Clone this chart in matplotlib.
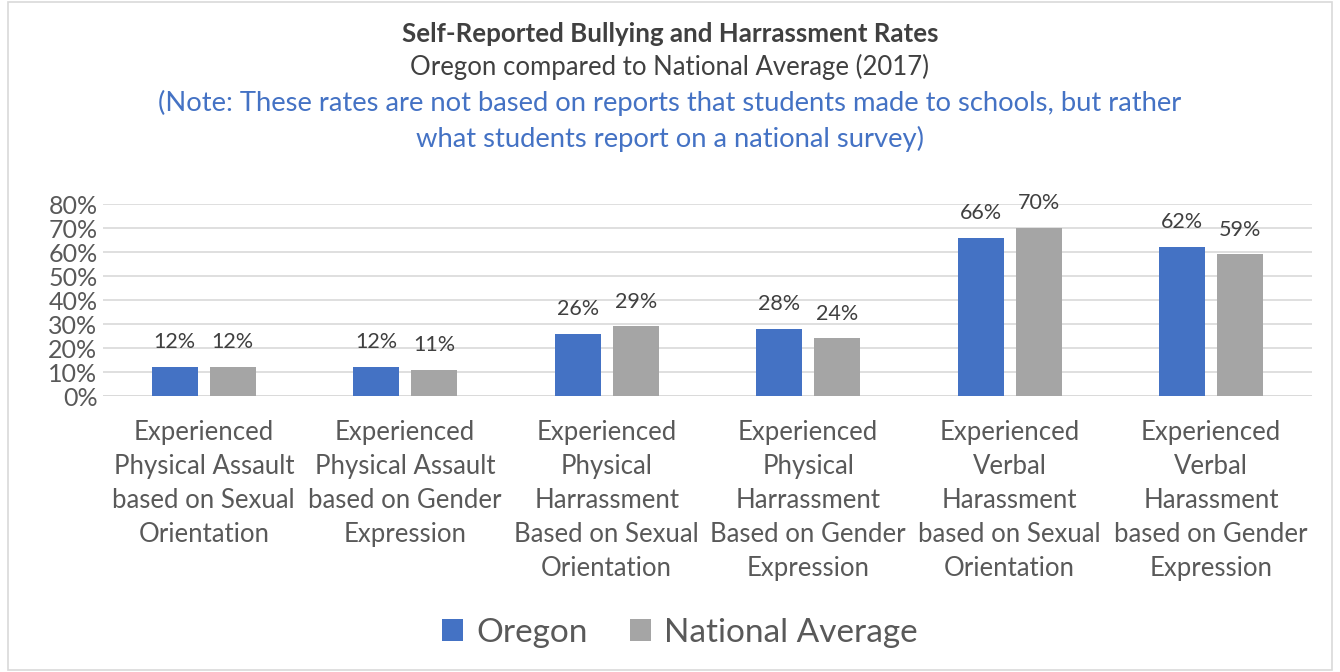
import numpy as np
import matplotlib
matplotlib.use("Agg")
import matplotlib.pyplot as plt
from matplotlib.patches import Rectangle

categories = [
    "Experienced\nPhysical Assault\nbased on Sexual\nOrientation",
    "Experienced\nPhysical Assault\nbased on Gender\nExpression",
    "Experienced\nPhysical\nHarrassment\nBased on Sexual\nOrientation",
    "Experienced\nPhysical\nHarrassment\nBased on Gender\nExpression",
    "Experienced\nVerbal\nHarassment\nbased on Sexual\nOrientation",
    "Experienced\nVerbal\nHarassment\nbased on Gender\nExpression",
]
oregon = [0.12, 0.12, 0.26, 0.28, 0.66, 0.62]
national = [0.12, 0.11, 0.29, 0.24, 0.70, 0.59]
yticks = [0, 0.1, 0.2, 0.3, 0.4, 0.5, 0.6, 0.7, 0.8]

blue = "#4472C4"
gray = "#A5A5A5"
text_gray = "#595959"

plt.rcParams['font.family'] = ['Lato', 'DejaVu Sans']

fig = plt.figure(figsize=(13.4, 6.72), dpi=100)
fig.patches.append(Rectangle((0.006, 0.003), 0.988, 0.994, transform=fig.transFigure,
                             fill=False, edgecolor="#D9D9D9", linewidth=1.2))

ax = fig.add_axes([0.0769, 0.4107, 0.902, 0.2857])
x = np.arange(len(categories))
w = 0.228
off = 0.144
b1 = ax.bar(x - off, oregon, w, color=blue, label="Oregon", zorder=3)
b2 = ax.bar(x + off, national, w, color=gray, label="National Average", zorder=3)

for bars, vals in ((b1, oregon), (b2, national)):
    for r, v in zip(bars, vals):
        ax.text(r.get_x() + r.get_width() / 2, v + 0.062, f"{v*100:.0f}%",
                ha="center", va="bottom", fontsize=15.5, color="#404040")

ax.set_xlim(-0.5, len(categories) - 0.5)
ax.set_ylim(0, 0.8)
ax.set_yticks(yticks)
ax.set_yticklabels([f"{t*100:.0f}%" for t in yticks], fontsize=18, color=text_gray)
ax.set_xticks(x)
ax.set_xticklabels(categories, fontsize=18.5, color=text_gray, linespacing=1.46, va="top")
ax.tick_params(axis="both", length=0, pad=4)
ax.tick_params(axis="x", pad=17)
ax.yaxis.grid(True, color="#D9D9D9", linewidth=1.2, zorder=0)
for s in ax.spines.values():
    s.set_visible(False)
ax.axhline(0, color="#D9D9D9", linewidth=1.2, zorder=1)

fig.text(0.5, 0.949, "Self-Reported Bullying and Harrassment Rates", ha="center", va="center",
         fontsize=18.6, fontweight="bold", color="#404040")
fig.text(0.5, 0.9, "Oregon compared to National Average (2017)", ha="center", va="center",
         fontsize=18.5, color="#404040")
fig.text(0.5, 0.82, "(Note: These rates are not based on reports that students made to schools, but rather\nwhat students report on a national survey)",
         ha="center", va="center", fontsize=19.7, color=blue, linespacing=1.48)

fig.legend(handles=[b1, b2], loc="center", bbox_to_anchor=(0.5075, 0.058), ncol=2, frameon=False,
           fontsize=24, labelcolor=text_gray, handlelength=0.62, handleheight=0.62,
           handletextpad=0.4, columnspacing=1.27)

fig.savefig("out.png", dpi=100)
